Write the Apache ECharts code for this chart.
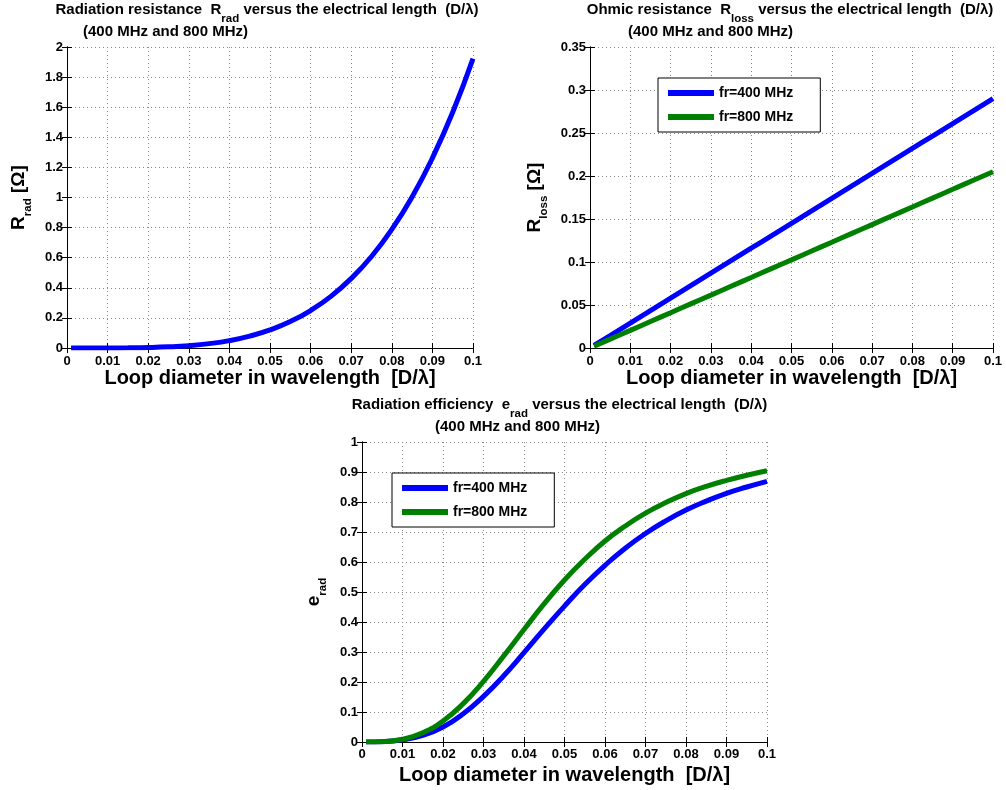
<!DOCTYPE html>
<html><head><meta charset="utf-8">
<script src="https://cdn.jsdelivr.net/npm/echarts@6/dist/echarts.min.js"></script>
<style>html,body{margin:0;padding:0;background:#fff}#c{width:1006px;height:790px}</style>
</head><body><div id="c"></div>
<script>
// ---- data ----
const xs = [0.001,0.005,0.01,0.015,0.02,0.025,0.03,0.035,0.04,0.045,0.05,0.055,0.06,0.065,0.07,0.075,0.08,0.085,0.09,0.095,0.1];
const rrad = [0,0.00001,0.0002,0.001,0.003,0.0075,0.0156,0.029,0.049,0.079,0.120,0.176,0.249,0.343,0.462,0.608,0.788,1.004,1.262,1.566,1.923];
const rloss400 = [0.003,0.0145,0.029,0.0435,0.058,0.0725,0.087,0.1015,0.116,0.1305,0.145,0.1595,0.174,0.1885,0.203,0.2175,0.232,0.2465,0.261,0.2755,0.29];
const rloss800 = [0.002,0.0103,0.0205,0.0308,0.041,0.0513,0.0615,0.0718,0.082,0.0923,0.1025,0.1128,0.123,0.1333,0.1435,0.1538,0.164,0.1743,0.1845,0.1948,0.205];
const erad400 = [0,0.001,0.007,0.022,0.050,0.094,0.152,0.221,0.298,0.377,0.453,0.525,0.589,0.646,0.695,0.737,0.773,0.803,0.829,0.850,0.869];
const erad800 = [0,0.001,0.009,0.031,0.070,0.128,0.202,0.287,0.375,0.461,0.540,0.609,0.670,0.720,0.763,0.798,0.828,0.852,0.872,0.889,0.904];
const seriesNames = ['fr=400 MHz','fr=800 MHz'];
const xRange = {min:0, max:0.1, interval:0.01};
const yRanges = [{min:0,max:2,interval:0.2},{min:0,max:0.35,interval:0.05},{min:0,max:1,interval:0.1}];
const titles1 = [
  ['Radiation resistance  R','rad',' versus the electrical length  (D/λ)'],
  ['Ohmic resistance  R','loss',' versus the electrical length  (D/λ)'],
  ['Radiation efficiency  e','rad',' versus the electrical length  (D/λ)']
];
const title2 = '(400 MHz and 800 MHz)';
const xName = 'Loop diameter in wavelength  [D/λ]';
const yNames = [['R','rad',' [Ω]'],['R','loss',' [Ω]'],['e','rad','']];

// ---- layout ----
const FONT = 'Liberation Sans';
const grids = [
  {left:67, top:47, width:406, height:301},
  {left:590, top:47, width:403, height:301},
  {left:362, top:442, width:405, height:300}
];
const xNameGaps = [17, 17, 23];
const yNameGaps = [33, 40.5, 33.5];
const title1Pos = [[267,2.5],[790,2.5],[559.5,397.5]];
const title2Pos = [[83,31.5],[628,31.5],[435,426.5]];

function fmt(v){ return String(+v.toFixed(3)); }
function pairs(ys){ return xs.map((x,i)=>[x,ys[i]]); }

const lblStyle = {fontFamily:FONT, fontWeight:'bold', fontSize:13, color:'#000'};
const axLine = {show:true, lineStyle:{color:'#000', width:1}};
const tick = {show:true, inside:true, length:5, lineStyle:{color:'#000', width:1}};
const split = {show:true, lineStyle:{color:'#8a8a8a', width:1, type:[1,3]}};

const xAxis = [], yAxis = [];
grids.forEach((g,i)=>{
  xAxis.push(Object.assign({type:'value', gridIndex:i, position:'bottom'}, xRange, {
    axisLine:axLine, axisTick:tick, splitLine:split,
    axisLabel:Object.assign({margin:i===2?6:7, formatter:fmt, showMinLabel:true, showMaxLabel:true}, lblStyle),
    name:xName, nameLocation:'middle', nameGap:xNameGaps[i],
    nameTextStyle:{fontFamily:FONT, fontWeight:'bold', fontSize:20, color:'#000', verticalAlign:'top'}
  }));
  xAxis.push(Object.assign({type:'value', gridIndex:i, position:'top'}, xRange, {
    axisLine:axLine, axisTick:tick, splitLine:{show:false}, axisLabel:{show:false}
  }));
  const yn = yNames[i];
  const yRich = {
    a:{fontFamily:FONT, fontWeight:'bold', fontSize:19, color:'#000', lineHeight:20, verticalAlign:'top'},
    s:{fontFamily:FONT, fontWeight:'bold', fontSize:11.5, color:'#000', padding:[12.5,0,0,0], verticalAlign:'top'}
  };
  yAxis.push(Object.assign({type:'value', gridIndex:i, position:'left'}, yRanges[i], {
    axisLine:axLine, axisTick:tick, splitLine:split,
    axisLabel:Object.assign({margin:4, formatter:fmt, showMinLabel:true, showMaxLabel:true}, lblStyle),
    name:'{a|'+yn[0]+'}{s|'+yn[1]+'}'+(yn[2]?'{a|'+yn[2]+'}':''),
    nameLocation:'middle', nameRotate:90, nameGap:yNameGaps[i],
    nameTextStyle:{rich:yRich}
  }));
  yAxis.push(Object.assign({type:'value', gridIndex:i, position:'right'}, yRanges[i], {
    axisLine:axLine, axisTick:tick, splitLine:{show:false}, axisLabel:{show:false}
  }));
});

function lineSeries(name, xi, ys, color){
  return {type:'line', name:name, xAxisIndex:xi, yAxisIndex:xi, data:pairs(ys),
    showSymbol:false, smooth:true, color:color, clip:true,
    lineStyle:{width:5, color:color}, emphasis:{disabled:true}};
}
const BLUE = '#0000ff', GREEN = '#008000';
const series = [
  lineSeries('Rrad', 0, rrad, BLUE),
  lineSeries(seriesNames[0], 2, rloss400, BLUE),
  lineSeries(seriesNames[1], 2, rloss800, GREEN),
  lineSeries(seriesNames[0], 4, erad400, BLUE),
  lineSeries(seriesNames[1], 4, erad800, GREEN)
];

const legendBase = {data:seriesNames, orient:'vertical', padding:[8,27,8,10], itemGap:10,
  itemWidth:46, itemHeight:6, icon:'rect', borderColor:'#000', borderWidth:1, borderRadius:0,
  backgroundColor:'#fff', selectedMode:false,
  textStyle:{fontFamily:FONT, fontWeight:'bold', fontSize:14, color:'#000'}};
const legend = [
  Object.assign({left:658, top:78}, legendBase),
  Object.assign({left:392, top:473}, legendBase)
];

const tRich = {
  a:{fontFamily:FONT, fontWeight:'bold', fontSize:15, fill:'#000', lineHeight:16, verticalAlign:'top'},
  s:{fontFamily:FONT, fontWeight:'bold', fontSize:11.5, fill:'#000', padding:[10,0,0,0], verticalAlign:'top'}
};
const graphic = [];
titles1.forEach((t,i)=>{
  graphic.push({type:'text', x:title1Pos[i][0], y:title1Pos[i][1], silent:true,
    style:{text:'{a|'+t[0]+'}{s|'+t[1]+'}{a|'+t[2]+'}', rich:tRich, align:'center', verticalAlign:'top'}});
  graphic.push({type:'text', x:title2Pos[i][0], y:title2Pos[i][1], silent:true,
    style:{text:title2, font:'bold 15px "'+FONT+'"', fill:'#000', align:'left', verticalAlign:'middle'}});
});

const chart = echarts.init(document.getElementById('c'));
chart.setOption({
  animation:false, backgroundColor:'#fff',
  grid:grids, xAxis:xAxis, yAxis:yAxis, series:series, legend:legend, graphic:graphic
});
</script></body></html>
